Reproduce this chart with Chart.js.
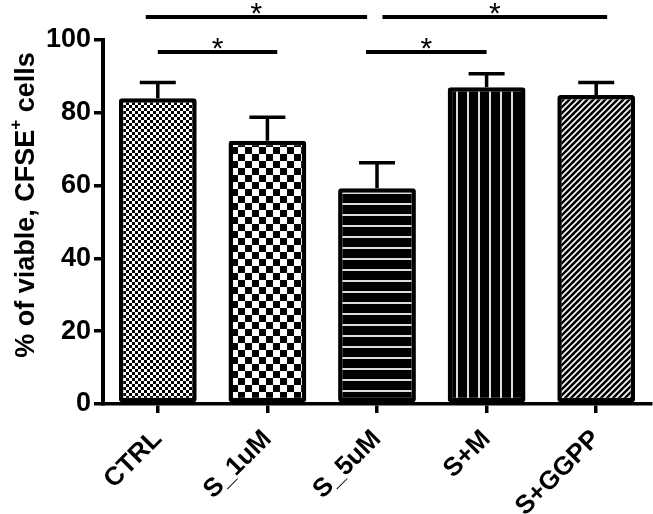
<!DOCTYPE html>
<html>
<head>
<meta charset="utf-8">
<script src="https://cdn.jsdelivr.net/npm/chart.js@4/dist/chart.umd.min.js"></script>
<style>
  html, body { margin: 0; padding: 0; background: #fff; }
  #wrap { width: 653px; height: 514px; position: relative; }
</style>
</head>
<body>
<div id="wrap"><canvas id="c" width="653" height="514"></canvas></div>
<script>
// ---- data ----
const categories = ["CTRL", "S_1uM", "S_5uM", "S+M", "S+GGPP"];
const meanValues = [84.0, 72.3, 59.3, 87.0, 84.9];
const errorValues = [4.3, 6.5, 7.0, 3.7, 3.4];
const yTicks = [0, 20, 40, 60, 80, 100];
const patternKinds = ["fineCheck", "coarseCheck", "hLines", "vLines", "diag"];
// significance brackets: [from category position, to category position, level in % units]
const sigFrom = [-0.11, 2.05, 0.0, 1.9];
const sigTo = [1.91, 4.1, 1.09, 3.0];
const sigLevel = [106.3, 106.3, 96.7, 96.7];
const sigLabel = ["*", "*", "*", "*"];
const yTitleMain = "% of viable, CFSE";
const yTitleSup = "+";
const yTitleEnd = " cells";

// ---- patterns ----
function makePattern(kind) {
  const c = document.createElement('canvas');
  const x = c.getContext('2d');
  if (kind === 'fineCheck') {
    c.width = c.height = 6;
    x.fillStyle = '#fff'; x.fillRect(0, 0, 6, 6);
    x.fillStyle = '#000'; x.fillRect(0, 0, 3, 3); x.fillRect(3, 3, 3, 3);
  } else if (kind === 'coarseCheck') {
    c.width = c.height = 14;
    x.fillStyle = '#fff'; x.fillRect(0, 0, 14, 14);
    x.fillStyle = '#000'; x.fillRect(0, 0, 7, 7); x.fillRect(7, 7, 7, 7);
  } else if (kind === 'hLines') {
    c.width = c.height = 11;
    x.fillStyle = '#000'; x.fillRect(0, 0, 11, 11);
    x.fillStyle = '#ddd'; x.fillRect(0, 5, 11, 2);
  } else if (kind === 'vLines') {
    c.width = c.height = 11;
    x.fillStyle = '#000'; x.fillRect(0, 0, 11, 11);
    x.fillStyle = '#ddd'; x.fillRect(5, 0, 2, 11);
  } else {
    const s = 6;
    c.width = c.height = s;
    x.fillStyle = '#000'; x.fillRect(0, 0, s, s);
    x.strokeStyle = '#fff'; x.lineWidth = 1.6;
    x.beginPath();
    x.moveTo(-1, s + 1); x.lineTo(s + 1, -1);
    x.moveTo(-1, 1); x.lineTo(1, -1);
    x.moveTo(s - 1, s + 1); x.lineTo(s + 1, s - 1);
    x.stroke();
  }
  return x.createPattern(c, 'repeat');
}
const ctx0 = document.getElementById('c').getContext('2d');
const fills = patternKinds.map(makePattern);

// ---- plugins ----
const errorBarPlugin = {
  id: 'errorBars',
  afterDatasetsDraw(chart) {
    const {ctx, scales: {y}} = chart;
    const meta = chart.getDatasetMeta(0);
    ctx.save();
    ctx.strokeStyle = '#000';
    ctx.lineWidth = 3.5;
    meta.data.forEach((bar, i) => {
      const top = y.getPixelForValue(meanValues[i] + errorValues[i]);
      ctx.beginPath();
      ctx.moveTo(bar.x, bar.y);
      ctx.lineTo(bar.x, top);
      ctx.moveTo(bar.x - 18, top);
      ctx.lineTo(bar.x + 18, top);
      ctx.stroke();
    });
    ctx.restore();
  }
};

const sigPlugin = {
  id: 'sig',
  afterDraw(chart) {
    const {ctx, scales: {x, y}} = chart;
    ctx.save();
    ctx.strokeStyle = '#000';
    ctx.fillStyle = '#000';
    ctx.lineWidth = 4;
    ctx.font = '30px "Liberation Sans", Arial, sans-serif';
    ctx.textAlign = 'center';
    ctx.textBaseline = 'alphabetic';
    for (let i = 0; i < sigFrom.length; i++) {
      const x1 = x.getPixelForValue(sigFrom[i]);
      const x2 = x.getPixelForValue(sigTo[i]);
      const yy = y.getPixelForValue(sigLevel[i]);
      ctx.beginPath();
      ctx.moveTo(x1, yy); ctx.lineTo(x2, yy);
      ctx.stroke();
      ctx.fillText(sigLabel[i], (x1 + x2) / 2, yy + 6);
    }
    ctx.restore();
  }
};

const yTitlePlugin = {
  id: 'yTitle',
  afterDraw(chart) {
    const {ctx} = chart;
    ctx.save();
    ctx.translate(24, 205);
    ctx.rotate(-Math.PI / 2);
    ctx.fillStyle = '#000';
    ctx.textBaseline = 'alphabetic';
    ctx.textAlign = 'left';
    const mainFont = 'bold 27px "Liberation Sans", Arial, sans-serif';
    const supFont = 'bold 17px "Liberation Sans", Arial, sans-serif';
    ctx.font = mainFont;
    const w1 = ctx.measureText(yTitleMain).width;
    const w3 = ctx.measureText(yTitleEnd).width;
    ctx.font = supFont;
    const w2 = ctx.measureText(yTitleSup).width;
    let xs = -(w1 + w2 + w3) / 2;
    ctx.font = mainFont;
    ctx.fillText(yTitleMain, xs, 10);
    xs += w1;
    ctx.font = supFont;
    ctx.fillText(yTitleSup, xs, -3);
    xs += w2;
    ctx.font = mainFont;
    ctx.fillText(yTitleEnd, xs, 10);
    ctx.restore();
  }
};

const tickFont = { family: '"Liberation Sans", Arial, sans-serif', size: 27, weight: 'bold' };
const xTickFont = { family: '"Liberation Sans", Arial, sans-serif', size: 26, weight: 'bold' };

new Chart(ctx0, {
  type: 'bar',
  data: {
    labels: categories,
    datasets: [{
      data: meanValues,
      backgroundColor: fills,
      borderColor: '#000',
      borderWidth: 4.5,
      borderRadius: 3,
      borderSkipped: false,
      barPercentage: 0.71,
      categoryPercentage: 1.0
    }]
  },
  options: {
    responsive: false,
    animation: false,
    devicePixelRatio: 1,
    layout: { padding: { top: 40, right: 2, left: 0, bottom: 0 } },
    plugins: { legend: { display: false }, tooltip: { enabled: false }, title: { display: false } },
    scales: {
      x: {
        offset: true,
        grid: { offset: false, drawOnChartArea: false, drawTicks: true, tickLength: 9, color: '#000', lineWidth: 3.5 },
        border: { display: true, color: '#000', width: 3.5 },
        ticks: { color: '#000', font: xTickFont, maxRotation: 45, minRotation: 45, autoSkip: false, padding: 11 },
        afterFit(scale) { scale.height = 110; }
      },
      y: {
        min: 0, max: 100,
        afterBuildTicks(scale) { scale.ticks = yTicks.map(v => ({ value: v })); },
        grid: { drawOnChartArea: false, drawTicks: true, tickLength: 9, color: '#000', lineWidth: 3.5 },
        border: { display: true, color: '#000', width: 4 },
        ticks: { color: '#000', font: tickFont, padding: 3 },
        afterFit(scale) { scale.width = 103; }
      }
    }
  },
  plugins: [errorBarPlugin, sigPlugin, yTitlePlugin]
});
</script>
</body>
</html>
